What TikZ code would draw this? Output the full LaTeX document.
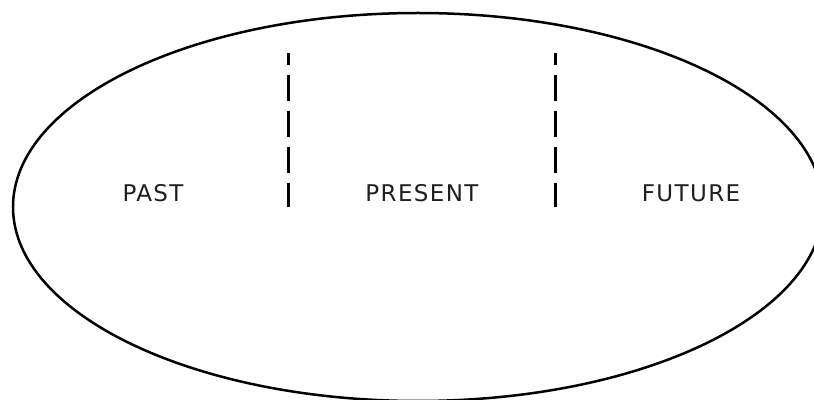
\documentclass[tikz,border=0pt]{standalone}
\usepackage{fontspec}
\setmainfont{DejaVu Sans}
\newfontfamily\labelfont[LetterSpace=6]{DejaVu Sans}
\usetikzlibrary{shapes.geometric}
\begin{document}
\begin{tikzpicture}[x=1pt,y=1pt,
  divider/.style={line width=3pt,dash pattern=on 26pt off 10pt},
  label/.style={font=\labelfont\fontsize{23}{26}\selectfont,text=black!88,anchor=base,inner sep=0pt}]
\useasboundingbox (0,0) rectangle (814,399);
\begin{scope}
\clip (0,0) rectangle (814,399);
\node[draw,line width=2.5pt,ellipse,minimum width=810pt,minimum height=388pt,inner sep=0pt] (ell) at (418,192) {};
\end{scope}
\coordinate (d1top) at (288,346);
\coordinate (d1bot) at (288,192);
\coordinate (d2top) at (555,346);
\coordinate (d2bot) at (555,192);
\draw[divider,dash phase=14pt] (d1top) -- (d1bot);
\draw[divider,dash phase=14pt] (d2top) -- (d2bot);
\node[label] (past) at (153,197) {PAST};
\node[label] (present) at (422,197) {PRESENT};
\node[label] (future) at (691,197) {FUTURE};
\end{tikzpicture}
\end{document}
